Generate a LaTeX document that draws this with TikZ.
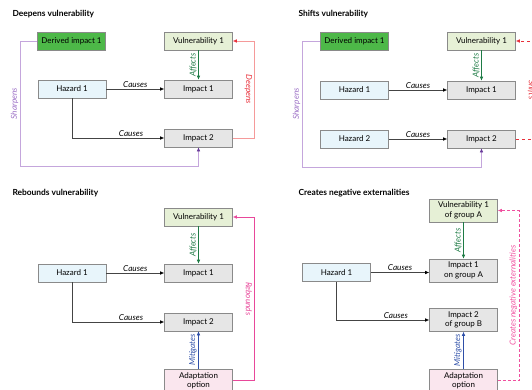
\documentclass[tikz,border=0pt]{standalone}
\usepackage{fontspec}
\setmainfont{Lato}
\usetikzlibrary{arrows.meta}
\definecolor{boxline}{HTML}{8A8A8A}
\definecolor{derfill}{HTML}{4DB848}
\definecolor{vulfill}{HTML}{E6F0D6}
\definecolor{hazfill}{HTML}{E8F5FB}
\definecolor{impfill}{HTML}{E6E6E6}
\definecolor{adafill}{HTML}{FAE6EE}
\definecolor{affcol}{HTML}{1E7B45}
\definecolor{deepline}{HTML}{F59A9A}
\definecolor{deepcol}{HTML}{E8303A}
\definecolor{sharpline}{HTML}{C4A6DC}
\definecolor{sharptext}{HTML}{9B6FC5}
\definecolor{sharpcol}{HTML}{6A3D9A}
\definecolor{mitcol}{HTML}{2E4FA8}
\definecolor{rebcol}{HTML}{E8489A}
\definecolor{extcol}{HTML}{F0509F}
\definecolor{causeline}{HTML}{444444}
\begin{document}
\begin{tikzpicture}[x=1pt,y=-1pt,
  every node/.style={font=\fontsize{8}{9.5}\selectfont},
  box/.style={draw=boxline,line width=0.6pt,minimum width=68pt,minimum height=18pt,inner sep=1pt,align=center},
  der/.style={box,fill=derfill},
  vul/.style={box,fill=vulfill},
  haz/.style={box,fill=hazfill},
  imp/.style={box,fill=impfill},
  ada/.style={box,fill=adafill,minimum height=23pt},
  title/.style={anchor=base west,font=\fontsize{8.4}{10}\selectfont\bfseries},
  lab/.style={font=\fontsize{8.2}{9.5}\selectfont\itshape,inner sep=1.5pt},
  causes/.style={draw=causeline,line width=0.6pt,-{Latex[length=4pt,width=3.5pt,color=black]}},
  affects/.style={draw=affcol,line width=0.6pt,-{Latex[length=4pt,width=3.5pt]}},
  deepens/.style={draw=deepline,line width=0.6pt,-{Latex[length=4pt,width=3.5pt,color=deepcol]}},
  sharpens/.style={draw=sharpline,line width=0.6pt,-{Latex[length=4pt,width=3.5pt,color=sharpcol]}},
  mitigates/.style={draw=mitcol,line width=0.6pt,-{Latex[length=4pt,width=3.5pt]}},
  rebounds/.style={draw=rebcol,line width=0.6pt,-{Latex[length=4pt,width=3.5pt]}},
  shifts/.style={draw=deepcol,dash pattern=on 3pt off 3pt,line width=0.6pt,-{Latex[length=4pt,width=3.5pt]}},
  extern/.style={draw=extcol,dash pattern=on 3pt off 2pt,line width=0.6pt,-{Latex[length=4pt,width=3.5pt]}}]
\useasboundingbox (0,0) rectangle (532,389);
\clip (0,0) rectangle (532,389);
% deepens vulnerability
\node[title] (d-title) at (9,16) {Deepens vulnerability};
\node[der] (d-der) at (71.5,41) {Derived impact 1};
\node[vul] (d-vul) at (198.5,41) {Vulnerability 1};
\node[haz] (d-haz) at (72,89) {Hazard 1};
\node[imp] (d-imp1) at (198.5,89) {Impact 1};
\node[imp] (d-imp2) at (198.5,138) {Impact 2};
\draw[causes] (d-haz) -- node[lab,above] {Causes} (d-imp1);
\draw[causes] (d-haz.south) |- node[lab,above,pos=0.82] {Causes} (d-imp2.west);
\draw[affects] (d-vul) -- node[lab,rotate=90,anchor=south,text=affcol] {Affects} (d-imp1);
\draw[deepens] (d-imp2.east) -- ++(21,0) |- node[lab,pos=0.25,rotate=-90,anchor=north,text=deepcol] {Deepens} (d-vul.east);
\draw[sharpens] (d-der.west) -- ++(-17,0) -- node[lab,rotate=90,anchor=south,text=sharptext] {Sharpens} ++(0,125) -| (d-imp2.south);
% shifts vulnerability
\node[title] (s-title) at (295,16) {Shifts vulnerability};
\node[der] (s-der) at (354.5,41) {Derived impact 1};
\node[vul] (s-vul) at (481.5,41) {Vulnerability 1};
\node[haz] (s-haz1) at (354.5,90) {Hazard 1};
\node[imp] (s-imp1) at (481.5,90) {Impact 1};
\node[haz] (s-haz2) at (354.5,139) {Hazard 2};
\node[imp] (s-imp2) at (481.5,139) {Impact 2};
\draw[causes] (s-haz1) -- node[lab,above] {Causes} (s-imp1);
\draw[causes] (s-haz2) -- node[lab,above] {Causes} (s-imp2);
\draw[affects] (s-vul) -- node[lab,rotate=90,anchor=south,text=affcol] {Affects} (s-imp1);
\draw[shifts] (s-imp2.east) -- ++(21,0) |- node[lab,pos=0.25,rotate=-90,anchor=north,text=deepcol] {Shifts} (s-vul.east);
\draw[sharpens] (s-der.west) -- ++(-18,0) -- node[lab,rotate=90,anchor=south,text=sharptext] {Sharpens} ++(0,126) -| (s-imp2.south);
% rebounds vulnerability
\node[title] (r-title) at (9,195) {Rebounds vulnerability};
\node[vul] (r-vul) at (198.5,217) {Vulnerability 1};
\node[haz] (r-haz) at (72,273) {Hazard 1};
\node[imp] (r-imp1) at (198.5,273) {Impact 1};
\node[imp] (r-imp2) at (198.5,322) {Impact 2};
\node[ada] (r-ada) at (198.5,380.5) {Adaptation\\option};
\draw[causes] (r-haz) -- node[lab,above] {Causes} (r-imp1);
\draw[causes] (r-haz.south) |- node[lab,above,pos=0.82] {Causes} (r-imp2.west);
\draw[affects] (r-vul) -- node[lab,rotate=90,anchor=south,text=affcol] {Affects} (r-imp1);
\draw[mitigates] (r-ada) -- node[lab,rotate=90,anchor=south,text=mitcol] {Mitigates} (r-imp2);
\draw[rebounds] (r-ada.east) -- ++(21,0) |- node[lab,pos=0.25,rotate=-90,anchor=north,text=rebcol] {Rebounds} (r-vul.east);
% creates negative externalities
\node[title] (c-title) at (295,195) {Creates negative externalities};
\node[vul,minimum height=23pt] (c-vul) at (463.5,210.5) {Vulnerability 1\\of group A};
\node[haz] (c-haz) at (336.5,272.5) {Hazard 1};
\node[imp,minimum height=23pt] (c-imp1) at (463.5,270.5) {Impact 1\\on group A};
\node[imp,minimum height=23pt] (c-imp2) at (463.5,320) {Impact 2\\of group B};
\node[ada] (c-ada) at (463.5,380.5) {Adaptation\\option};
\draw[causes] (c-haz.east) -- node[lab,above] {Causes} (c-haz.east -| c-imp1.west);
\draw[causes] (c-haz.south) |- node[lab,above,pos=0.82] {Causes} (c-imp2.west);
\draw[affects] (c-vul) -- node[lab,rotate=90,anchor=south,text=affcol] {Affects} (c-imp1);
\draw[mitigates] (c-ada) -- node[lab,rotate=90,anchor=south,text=mitcol] {Mitigates} (c-imp2);
\draw[extern] (c-ada.east) -- ++(21,0) |- node[lab,pos=0.25,rotate=90,anchor=south,text=extcol] {Creates negative externalities} (c-vul.east);
\end{tikzpicture}
\end{document}
